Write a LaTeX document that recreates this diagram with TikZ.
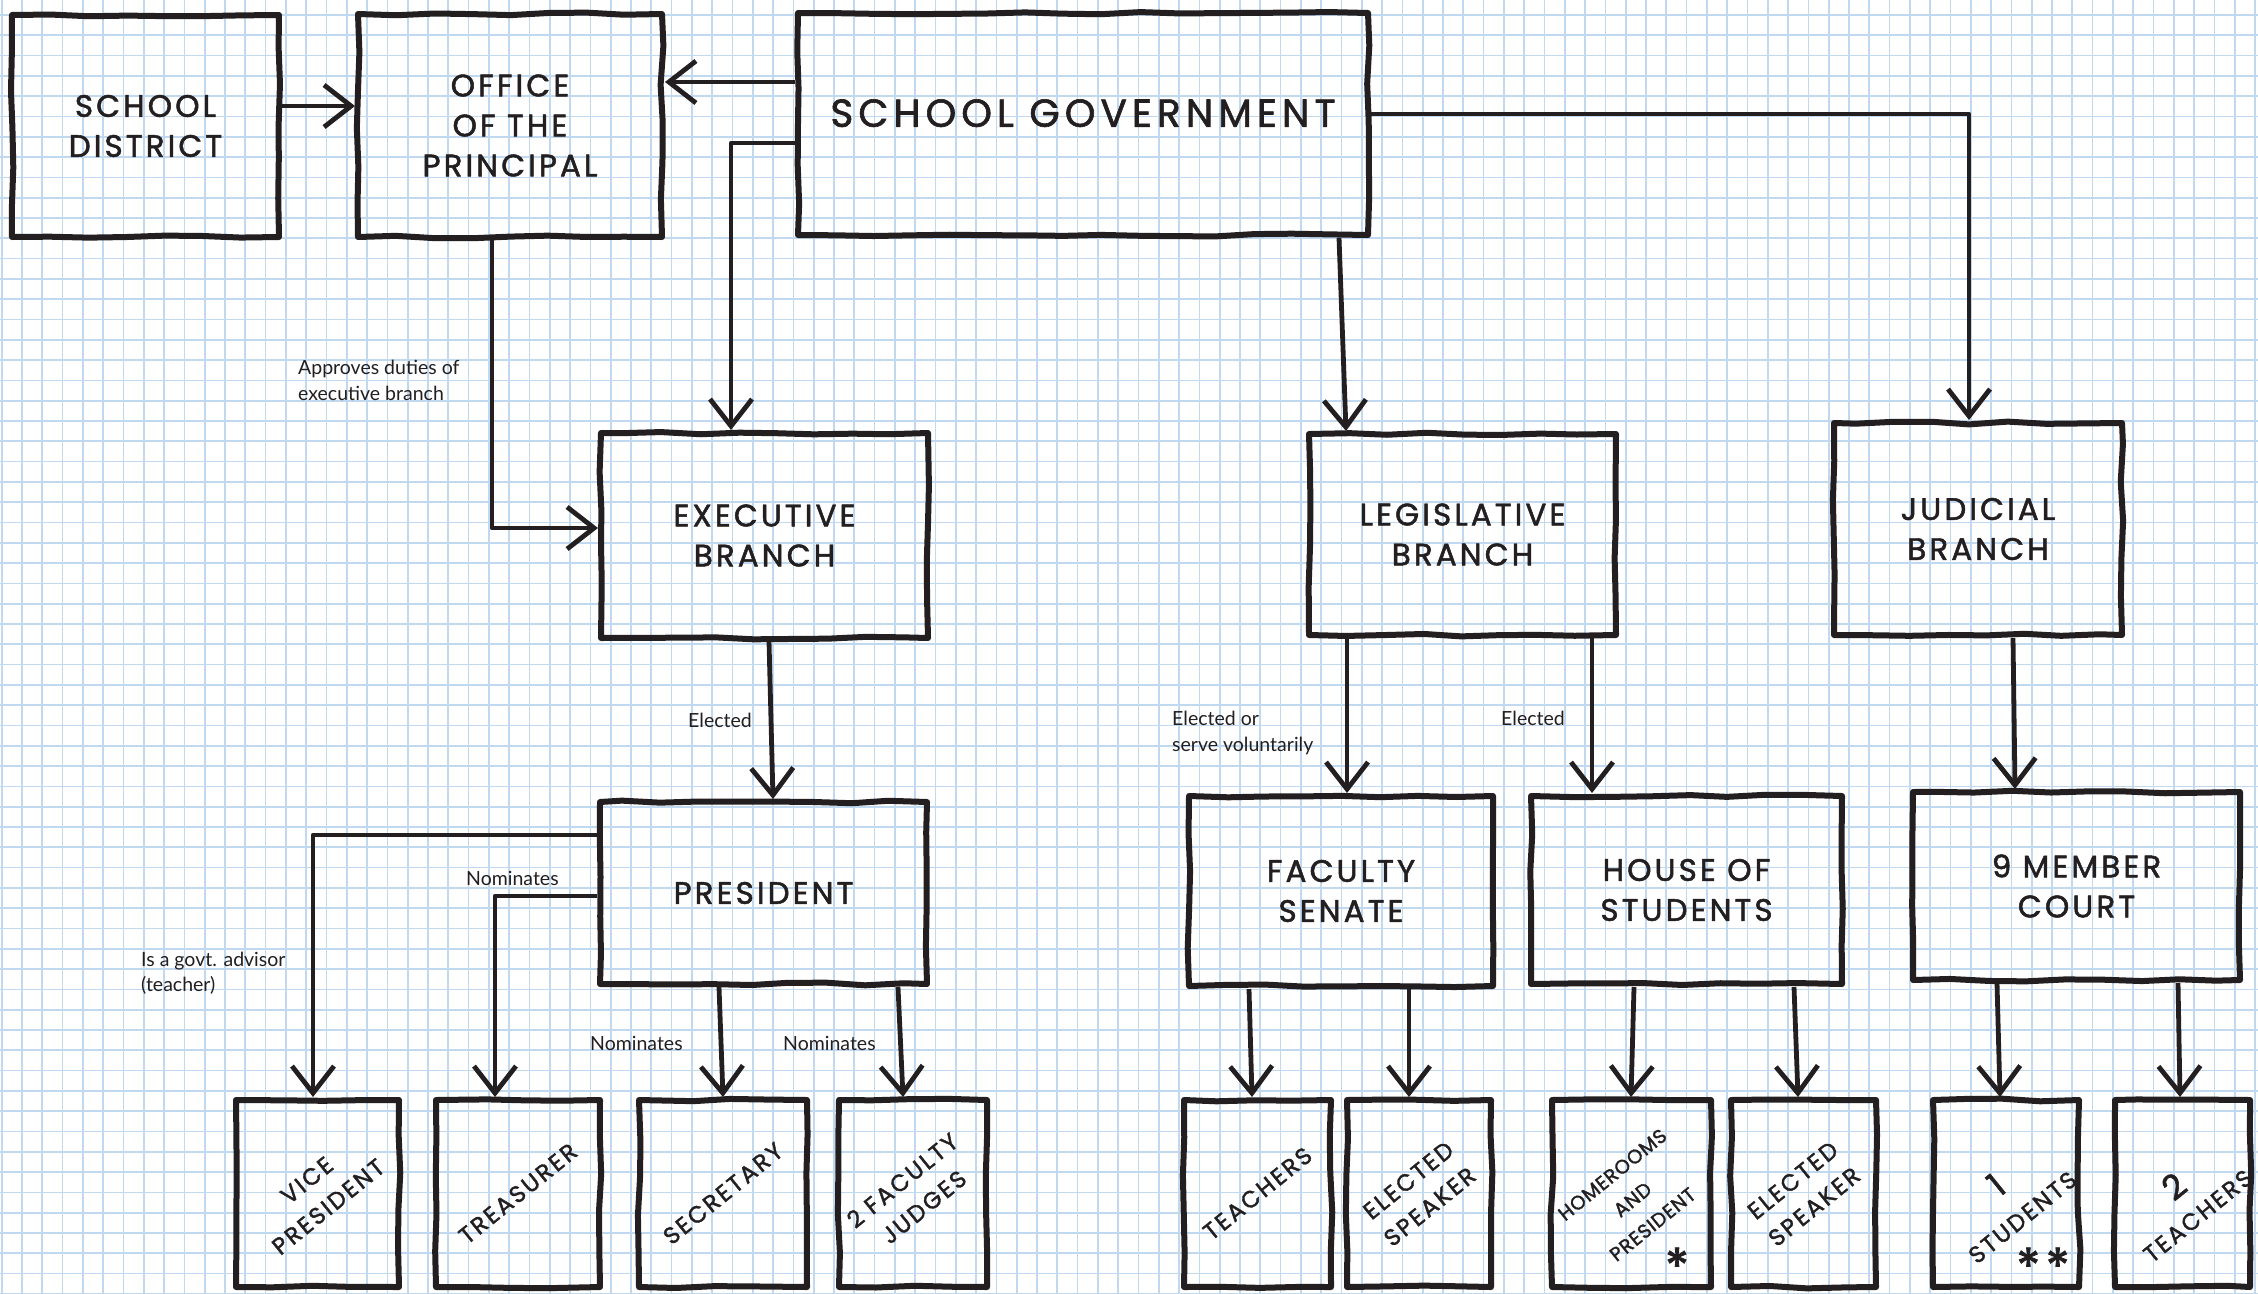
\documentclass[tikz,border=0pt]{standalone}
\usepackage{fontspec}
\setmainfont{Lato}
\newfontfamily\handfont[LetterSpace=10,FakeBold=1.6]{Poppins}
\newfontfamily\handfontwide[LetterSpace=13,FakeBold=1.6]{Poppins}
\newfontfamily\handfontnarrow[LetterSpace=4,FakeBold=1.6]{Poppins}
\usetikzlibrary{arrows.meta,decorations.pathmorphing}
\definecolor{ink}{HTML}{231F20}
\definecolor{gridblue}{RGB}{192,216,240}
\begin{document}
\begin{tikzpicture}[x=1pt,y=-1pt,
  gridline/.style={draw=gridblue, line width=1.7pt},
  box/.style n args={2}{draw=ink, line width=6pt, line join=round, inner sep=0pt,
    minimum width=#1pt, minimum height=#2pt, align=center, text=ink,
    font=\handfont\fontsize{31}{40}\selectfont,
    decorate, decoration={random steps, segment length=38pt, amplitude=1.4pt}},
  rottxt/.style={rotate=39, align=center, text=ink, inner sep=0pt,
    font=\handfont\fontsize{23.5}{34}\selectfont},
  conn/.style={draw=ink, line width=4.8pt, line join=round,
    -{Straight Barb[length=27pt,width=42pt]}},
  lbl/.style={font=\fontsize{19.5}{25.3}\selectfont, text=ink, inner sep=0pt,
    align=left, anchor=west}]
\pgfmathsetseed{7}
\useasboundingbox (0,0) rectangle (2258,1293);
\fill[white] (0,0) rectangle (2258,1293);
\foreach \i in {0,...,111} \draw[gridline] ({1.7+20.3*\i},0) -- ({1.7+20.3*\i},1293);
\foreach \j in {1,...,64} \draw[gridline] (0,{-5.3+20.3*\j}) -- (2258,{-5.3+20.3*\j});

% top row
\node[box={267}{222}] (sd) at (145.5,126) {SCHOOL\\DISTRICT};
\node[box={304}{223}] (op) at (510,125.5) {OFFICE\\OF THE\\PRINCIPAL};
\node[box={570}{222}, font=\handfontwide\fontsize{39}{44}\selectfont] (sg) at (1083,124) {\raisebox{22pt}{SCHOOL GOVERNMENT}};

% branches
\node[box={327}{205}] (exec) at (764.5,535.5) {EXECUTIVE\\BRANCH};
\node[box={307}{201}] (leg) at (1462.5,534.5) {LEGISLATIVE\\BRANCH};
\node[box={288}{212}] (jud) at (1978,529) {JUDICIAL\\BRANCH};

% third row
\node[box={327}{182}] (pres) at (763.5,893) {PRESIDENT};
\node[box={304}{190}] (fs) at (1341,891) {FACULTY\\SENATE};
\node[box={311}{188}] (hs) at (1686.5,890) {HOUSE OF\\STUDENTS};
\node[box={327}{188}] (court) at (2076.5,886) {9 MEMBER\\COURT};

% bottom row
\node[box={163}{187}] (vp) at (317.5,1193.5) {};
\node[box={164}{187}] (tr) at (518,1193.5) {};
\node[box={168}{187}] (sec) at (723,1193.5) {};
\node[box={148}{187}] (jdg) at (913,1193.5) {};
\node[box={147}{187}] (t1) at (1257.5,1193.5) {};
\node[box={144}{187}] (es1) at (1419,1193.5) {};
\node[box={159}{187}] (hr) at (1631.5,1193.5) {};
\node[box={145}{187}] (es2) at (1803.5,1193.5) {};
\node[box={146}{187}] (st) at (2006,1193.5) {};
\node[box={135}{187}] (t2) at (2182.5,1193.5) {};

% rotated texts
\node[rottxt] (vpt) at (vp.center) {VICE\\PRESIDENT};
\node[rottxt] (trt) at (tr.center) {TREASURER};
\node[rottxt] (sect) at (sec.center) {SECRETARY};
\node[rottxt] (jdgt) at (jdg.center) {2 FACULTY\\JUDGES};
\node[rottxt] (t1t) at (t1.center) {TEACHERS};
\node[rottxt] (es1t) at (es1.center) {ELECTED\\SPEAKER};
\node[rottxt, font=\handfontnarrow\fontsize{19.5}{32}\selectfont] (hrt) at ([xshift=1pt,yshift=-6pt]hr.center) {HOMEROOMS\\AND\\PRESIDENT};
\node[rottxt] (es2t) at (es2.center) {ELECTED\\SPEAKER};
\node[rottxt] (stt) at ([xshift=2pt,yshift=-6pt]st.center) {{\fontsize{34}{34}\selectfont 1}\\[4pt]STUDENTS};
\node[rottxt] (t2t) at ([xshift=2pt,yshift=-6pt]t2.center) {{\fontsize{34}{34}\selectfont 2}\\[0pt]TEACHERS};
\node[text=ink, inner sep=0pt, font=\handfont\fontsize{50}{50}\selectfont] (star1) at (1677,1266) {*};
\node[text=ink, inner sep=0pt, font=\handfont\fontsize{50}{50}\selectfont] (star2) at (2043,1266) {**};

% connectors
\draw[conn] (sd.east |- 0,106) -- (op.west |- 0,106);
\draw[conn] (sg.west |- 0,82) -- (op.east |- 0,82);
\draw[conn] (sg.west |- 0,143) -| (exec.north -| 731,0);
\draw[conn] (sg.south -| 1339,0) -- (leg.north -| 1346,0);
\draw[conn] (sg.east |- 0,114) -| (jud.north -| 1969,0);
\draw[conn] (op.south -| 492,0) |- (exec.west |- 0,528);
\draw[conn] (exec.south -| 769,0) -- (pres.north -| 773,0);
\draw[conn] (pres.west |- 0,835) -| (vp.north -| 313,0);
\draw[conn] (pres.west |- 0,896) -| (tr.north -| 495,0);
\draw[conn] (pres.south -| 719,0) -- (sec.north -| 723,0);
\draw[conn] (pres.south -| 898,0) -- (jdg.north -| 903,0);
\draw[conn] (leg.south -| 1347,0) -- (fs.north -| 1347,0);
\draw[conn] (leg.south -| 1592,0) -- (hs.north -| 1592,0);
\draw[conn] (jud.south -| 2013,0) -- (court.north -| 2015,0);
\draw[conn] (fs.south -| 1249,0) -- (t1.north -| 1252,0);
\draw[conn] (fs.south -| 1409,0) -- (es1.north -| 1409,0);
\draw[conn] (hs.south -| 1634,0) -- (hr.north -| 1631,0);
\draw[conn] (hs.south -| 1794,0) -- (es2.north -| 1798,0);
\draw[conn] (court.south -| 1997,0) -- (st.north -| 2000,0);
\draw[conn] (court.south -| 2178,0) -- (t2.north -| 2180,0);

% labels
\node[lbl] (l1) at (298,380.5) {Approves duties of\\executive branch};
\node[lbl] (l2) at (688,720) {Elected};
\node[lbl] (l3) at (466,878) {Nominates};
\node[lbl] (l4) at (141,973.5) {Is a govt. advisor\\(teacher)};
\node[lbl] (l5) at (590,1043) {Nominates};
\node[lbl] (l6) at (783,1043) {Nominates};
\node[lbl] (l7) at (1172,733) {Elected or\\serve voluntarily};
\node[lbl] (l8) at (1501,718) {Elected};
\end{tikzpicture}
\end{document}
